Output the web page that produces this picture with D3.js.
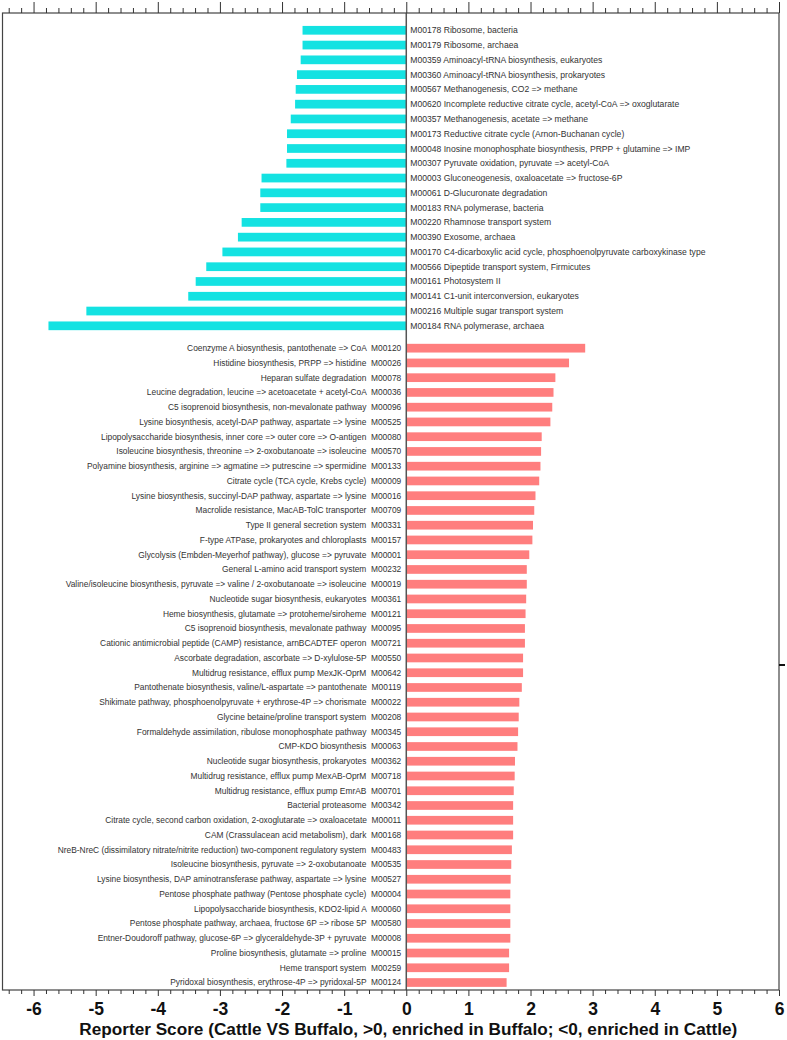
<!DOCTYPE html>
<html>
<head>
<meta charset="utf-8">
<script src="https://cdn.jsdelivr.net/npm/d3@7"></script>
<style>
  html, body { margin: 0; padding: 0; background: #fff; }
  svg { display: block; }
</style>
</head>
<body>
<svg id="chart" width="787" height="1040"></svg>
<script>
// ---- data ----
const negIds = ["M00178","M00179","M00359","M00360","M00567","M00620","M00357","M00173","M00048","M00307","M00003","M00061","M00183","M00220","M00390","M00170","M00566","M00161","M00141","M00216","M00184"];
const negNames = ["Ribosome, bacteria","Ribosome, archaea","Aminoacyl-tRNA biosynthesis, eukaryotes","Aminoacyl-tRNA biosynthesis, prokaryotes","Methanogenesis, CO2 => methane","Incomplete reductive citrate cycle, acetyl-CoA => oxoglutarate","Methanogenesis, acetate => methane","Reductive citrate cycle (Arnon-Buchanan cycle)","Inosine monophosphate biosynthesis, PRPP + glutamine => IMP","Pyruvate oxidation, pyruvate => acetyl-CoA","Gluconeogenesis, oxaloacetate => fructose-6P","D-Glucuronate degradation","RNA polymerase, bacteria","Rhamnose transport system","Exosome, archaea","C4-dicarboxylic acid cycle, phosphoenolpyruvate carboxykinase type","Dipeptide transport system, Firmicutes","Photosystem II","C1-unit interconversion, eukaryotes","Multiple sugar transport system","RNA polymerase, archaea"];
const negValues = [-1.67,-1.67,-1.70,-1.76,-1.78,-1.79,-1.86,-1.92,-1.92,-1.93,-2.33,-2.35,-2.35,-2.65,-2.71,-2.96,-3.22,-3.39,-3.51,-5.15,-5.76];

const posIds = ["M00120","M00026","M00078","M00036","M00096","M00525","M00080","M00570","M00133","M00009","M00016","M00709","M00331","M00157","M00001","M00232","M00019","M00361","M00121","M00095","M00721","M00550","M00642","M00119","M00022","M00208","M00345","M00063","M00362","M00718","M00701","M00342","M00011","M00168","M00483","M00535","M00527","M00004","M00060","M00580","M00008","M00015","M00259","M00124"];
const posNames = ["Coenzyme A biosynthesis, pantothenate => CoA","Histidine biosynthesis, PRPP => histidine","Heparan sulfate degradation","Leucine degradation, leucine => acetoacetate + acetyl-CoA","C5 isoprenoid biosynthesis, non-mevalonate pathway","Lysine biosynthesis, acetyl-DAP pathway, aspartate => lysine","Lipopolysaccharide biosynthesis, inner core => outer core => O-antigen","Isoleucine biosynthesis, threonine => 2-oxobutanoate => isoleucine","Polyamine biosynthesis, arginine => agmatine => putrescine => spermidine","Citrate cycle (TCA cycle, Krebs cycle)","Lysine biosynthesis, succinyl-DAP pathway, aspartate => lysine","Macrolide resistance, MacAB-TolC transporter","Type II general secretion system","F-type ATPase, prokaryotes and chloroplasts","Glycolysis (Embden-Meyerhof pathway), glucose => pyruvate","General L-amino acid transport system","Valine/isoleucine biosynthesis, pyruvate => valine / 2-oxobutanoate => isoleucine","Nucleotide sugar biosynthesis, eukaryotes","Heme biosynthesis, glutamate => protoheme/siroheme","C5 isoprenoid biosynthesis, mevalonate pathway","Cationic antimicrobial peptide (CAMP) resistance, arnBCADTEF operon","Ascorbate degradation, ascorbate => D-xylulose-5P","Multidrug resistance, efflux pump MexJK-OprM","Pantothenate biosynthesis, valine/L-aspartate => pantothenate","Shikimate pathway, phosphoenolpyruvate + erythrose-4P => chorismate","Glycine betaine/proline transport system","Formaldehyde assimilation, ribulose monophosphate pathway","CMP-KDO biosynthesis","Nucleotide sugar biosynthesis, prokaryotes","Multidrug resistance, efflux pump MexAB-OprM","Multidrug resistance, efflux pump EmrAB","Bacterial proteasome","Citrate cycle, second carbon oxidation, 2-oxoglutarate => oxaloacetate","CAM (Crassulacean acid metabolism), dark","NreB-NreC (dissimilatory nitrate/nitrite reduction) two-component regulatory system","Isoleucine biosynthesis, pyruvate => 2-oxobutanoate","Lysine biosynthesis, DAP aminotransferase pathway, aspartate => lysine","Pentose phosphate pathway (Pentose phosphate cycle)","Lipopolysaccharide biosynthesis, KDO2-lipid A","Pentose phosphate pathway, archaea, fructose 6P => ribose 5P","Entner-Doudoroff pathway, glucose-6P => glyceraldehyde-3P + pyruvate","Proline biosynthesis, glutamate => proline","Heme transport system","Pyridoxal biosynthesis, erythrose-4P => pyridoxal-5P"];
const posValues = [2.88,2.62,2.40,2.37,2.35,2.32,2.18,2.17,2.16,2.14,2.08,2.06,2.04,2.03,1.98,1.94,1.94,1.93,1.92,1.91,1.91,1.88,1.88,1.86,1.82,1.81,1.80,1.79,1.75,1.745,1.73,1.72,1.72,1.72,1.70,1.69,1.68,1.675,1.675,1.675,1.675,1.655,1.655,1.615];

const xTickValues = [-6,-5,-4,-3,-2,-1,0,1,2,3,4,5,6];
const xTitle = "Reporter Score (Cattle VS Buffalo, >0, enriched in Buffalo; <0, enriched in Cattle)";

// ---- layout ----
const svg = d3.select("#chart");
const frame = {left: 2.5, right: 779, top: 13, bottom: 990};

const x = d3.scaleLinear().domain([-6.5, 6]).range([frame.left, frame.right]);

const yNeg = d3.scaleBand().domain(negIds).range([22.9, 333.2]).paddingInner(0.41).paddingOuter(0.205);
const yPos = d3.scaleBand().domain(posIds).range([340.8, 989.9]).paddingInner(0.41).paddingOuter(0.205);

const cyan = "#14E2E2";
const red = "#FF7E7E";
const labelFont = "'Liberation Sans', Arial, sans-serif";
const axisFont = "'Liberation Sans Narrow', 'Liberation Sans', Arial, sans-serif";

// bars
svg.append("g").selectAll("rect").data(negIds).join("rect")
  .attr("x", (d,i) => x(negValues[i]))
  .attr("y", d => yNeg(d))
  .attr("width", (d,i) => x(0) - x(negValues[i]))
  .attr("height", yNeg.bandwidth())
  .attr("fill", cyan);

svg.append("g").selectAll("rect").data(posIds).join("rect")
  .attr("x", x(0))
  .attr("y", d => yPos(d))
  .attr("width", (d,i) => x(posValues[i]) - x(0))
  .attr("height", yPos.bandwidth())
  .attr("fill", red);

// labels
svg.append("g").selectAll("text").data(negIds).join("text")
  .attr("x", x(0) + 4)
  .attr("y", d => yNeg(d) + yNeg.bandwidth()/2)
  .attr("dy", "0.35em")
  .attr("font-family", labelFont)
  .attr("font-size", 8.6)
  .attr("fill", "#333")
  .text((d,i) => d + " " + negNames[i]);

svg.append("g").selectAll("text").data(posIds).join("text")
  .attr("x", x(0) - 5)
  .attr("y", d => yPos(d) + yPos.bandwidth()/2)
  .attr("dy", "0.35em")
  .attr("text-anchor", "end")
  .attr("font-family", labelFont)
  .attr("font-size", 8.4)
  .attr("fill", "#333")
  .style("white-space", "pre")
  .text((d,i) => posNames[i] + "  " + d);

// zero line
svg.append("line")
  .attr("x1", x(0)).attr("x2", x(0))
  .attr("y1", frame.top).attr("y2", frame.bottom)
  .attr("stroke", "#555").attr("stroke-width", 1.5);

// frame
svg.append("rect")
  .attr("x", frame.left).attr("y", frame.top)
  .attr("width", frame.right - frame.left).attr("height", frame.bottom - frame.top)
  .attr("fill", "none").attr("stroke", "#444").attr("stroke-width", 1.2);

// minor tick positions
const minorTicks = d3.range(-32, 31).map(k => k / 5).filter(v => Math.abs(v - Math.round(v)) > 1e-6);

// top axis
const topAxisMajor = d3.axisTop(x).tickValues(xTickValues).tickSize(11).tickFormat("");
const topAxisMinor = d3.axisTop(x).tickValues(minorTicks).tickSize(5).tickFormat("");
[topAxisMajor, topAxisMinor].forEach(ax => {
  const g = svg.append("g").attr("transform", `translate(0,${frame.top})`).call(ax);
  g.select(".domain").remove();
  g.selectAll("line").attr("stroke", "#333").attr("stroke-width", 1);
});

// bottom axis
const botAxisMajor = d3.axisBottom(x).tickValues(xTickValues).tickSize(6).tickPadding(7).tickFormat(d3.format("d"));
const botAxisMinor = d3.axisBottom(x).tickValues(minorTicks).tickSize(4).tickFormat("");
const gb = svg.append("g").attr("transform", `translate(0,${frame.bottom})`).call(botAxisMajor);
gb.select(".domain").remove();
gb.selectAll("line").attr("stroke", "#333").attr("stroke-width", 1);
gb.selectAll("text")
  .attr("font-family", axisFont).attr("font-weight", "bold")
  .attr("font-size", 17.5).attr("fill", "#111")
  .text(d => d < 0 ? "-" + Math.abs(d) : d);
const gbm = svg.append("g").attr("transform", `translate(0,${frame.bottom})`).call(botAxisMinor);
gbm.select(".domain").remove();
gbm.selectAll("line").attr("stroke", "#333").attr("stroke-width", 1);

// right side small tick
svg.append("line")
  .attr("x1", frame.right).attr("x2", frame.right + 6)
  .attr("y1", 665).attr("y2", 665)
  .attr("stroke", "#111").attr("stroke-width", 2);

// x title
svg.append("text")
  .attr("x", x(0) + 2)
  .attr("y", 1035)
  .attr("text-anchor", "middle")
  .attr("font-family", axisFont)
  .attr("font-weight", "bold")
  .attr("font-size", 17.2)
  .attr("fill", "#111")
  .text(xTitle);
</script>
</body>
</html>
